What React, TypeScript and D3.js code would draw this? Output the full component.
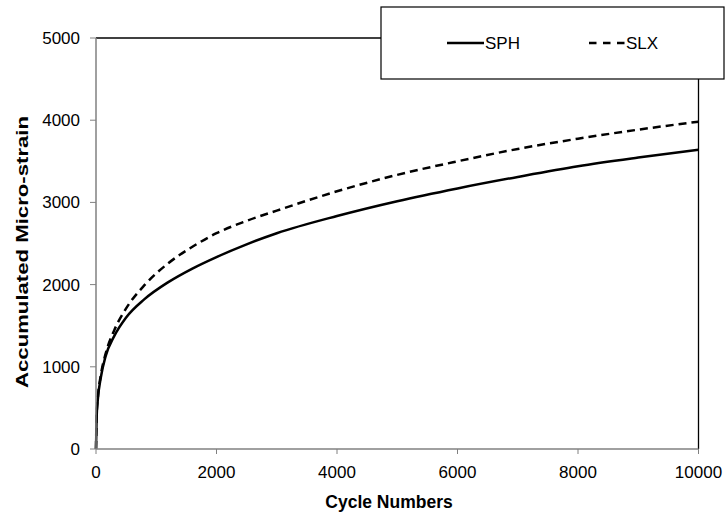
import React from 'react';
import * as d3 from 'd3';

const cycles = [0, 10, 30, 80, 160, 300, 500, 800, 1200, 1600, 2000, 2500, 3000, 4000, 5000, 6000, 7000, 8000, 9000, 10000];
const sph = [0, 380, 600, 870, 1130, 1370, 1600, 1820, 2030, 2195, 2335, 2490, 2625, 2835, 3015, 3170, 3310, 3440, 3545, 3640];
const slx = [0, 400, 620, 900, 1160, 1440, 1710, 1990, 2260, 2460, 2625, 2775, 2900, 3135, 3335, 3500, 3650, 3775, 3885, 3982];
const xTicks = [0, 2000, 4000, 6000, 8000, 10000];
const yTicks = [0, 1000, 2000, 3000, 4000, 5000];

const w = 726;
const h = 514;
const left = 96;
const right = 698.5;
const top = 38;
const bottom = 449;
const font = 'Liberation Sans, Arial, sans-serif';

const App = () => {
  const x = d3.scaleLinear().domain([0, 10000]).range([left, right]);
  const y = d3.scaleLinear().domain([0, 5000]).range([bottom, top]);

  const line = d3
    .line<number>()
    .x((d, i) => x(cycles[i]))
    .y((d) => y(d))
    .curve(d3.curveMonotoneX);

  return (
    <svg width={w} height={h} style={{ position: 'absolute', left: 0, top: 0 }} fontFamily={font}>
      <rect width={w} height={h} fill="#fff" />
      {/* plot frame */}
      <line x1={left} x2={right} y1={top} y2={top} stroke="#000" strokeWidth={1.3} />
      <line x1={right} x2={right} y1={top} y2={bottom} stroke="#000" strokeWidth={1.3} />

      <path d={line(slx) || ''} fill="none" stroke="#000" strokeWidth={2.5} strokeDasharray="8,5" />
      <path d={line(sph) || ''} fill="none" stroke="#000" strokeWidth={2.5} />

      {/* axes */}
      <line x1={left} x2={left} y1={top} y2={bottom} stroke="#808080" strokeWidth={1.5} />
      <line x1={left} x2={right} y1={bottom} y2={bottom} stroke="#808080" strokeWidth={1.5} />
      {yTicks.map((t) => (
        <g key={'y' + t}>
          <line x1={left - 6} x2={left} y1={y(t)} y2={y(t)} stroke="#808080" strokeWidth={1} />
          <text x={80} y={y(t)} dy="0.35em" textAnchor="end" fontSize={17}>
            {t}
          </text>
        </g>
      ))}
      {xTicks.map((t) => (
        <g key={'x' + t}>
          <line x1={x(t)} x2={x(t)} y1={bottom} y2={bottom + 5} stroke="#808080" strokeWidth={1} />
          <text x={x(t)} y={478} textAnchor="middle" fontSize={17}>
            {t}
          </text>
        </g>
      ))}

      <text x={389} y={507.5} textAnchor="middle" fontSize={17.5} fontWeight="bold">
        Cycle Numbers
      </text>
      <text
        transform="translate(27.5,252) rotate(-90)"
        textAnchor="middle"
        fontSize={17}
        fontWeight="bold"
        textLength={272}
        lengthAdjust="spacingAndGlyphs"
      >
        Accumulated Micro-strain
      </text>

      {/* legend */}
      <rect x={381} y={7} width={343} height={72} fill="#fff" stroke="#000" strokeWidth={1.2} />
      <line x1={447} x2={484} y1={43} y2={43} stroke="#000" strokeWidth={2.5} />
      <text x={485} y={43} dy="0.35em" fontSize={17}>SPH</text>
      <line x1={589} x2={625} y1={43} y2={43} stroke="#000" strokeWidth={2.5} strokeDasharray="7.5,6.5" />
      <text x={626} y={43} dy="0.35em" fontSize={17}>SLX</text>
    </svg>
  );
};

export default App;
